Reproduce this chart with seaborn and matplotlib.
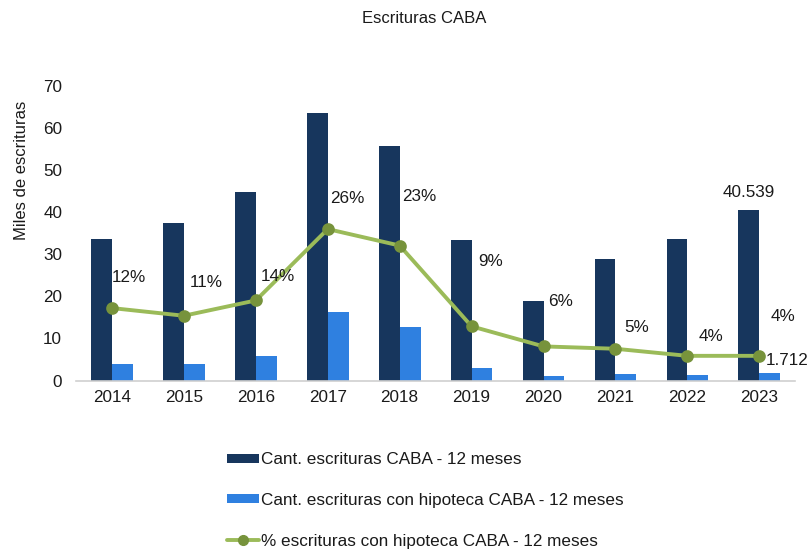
import numpy as np
import pandas as pd
import seaborn as sns
import matplotlib.pyplot as plt
from matplotlib.patches import Patch
from matplotlib.lines import Line2D

years = ['2014', '2015', '2016', '2017', '2018', '2019', '2020', '2021', '2022', '2023']
escrituras = [33.7, 37.4, 44.9, 63.5, 55.7, 33.4, 18.8, 28.9, 33.7, 40.539]
hipotecas = [4.0, 4.0, 5.9, 16.2, 12.7, 3.0, 1.1, 1.5, 1.3, 1.712]
pct_hipoteca = [0.123, 0.110, 0.136, 0.257, 0.229, 0.092, 0.058, 0.054, 0.042, 0.042]

label_total = 'Cant. escrituras CABA - 12 meses'
label_hip = 'Cant. escrituras con hipoteca CABA - 12 meses'
label_pct = '% escrituras con hipoteca CABA - 12 meses'

# label offsets (points) for the % labels, placed like the original Excel chart
pct_offsets = [(12, 22), (16, 24), (16, 17), (14, 22), (14, 35),
               (14, 47), (12, 32), (15, 15), (17, 14), (17, 28)]

dark = '#17365D'
blue = '#2F80E0'
green = '#9BBB59'
green_dark = '#77933C'
txt = '#1a1a1a'
fs = 12.3

sns.set_theme(style='white')
plt.rcParams['font.family'] = ['Liberation Sans', 'DejaVu Sans']

df = pd.DataFrame({
    'year': years * 2,
    'value': escrituras + hipotecas,
    'serie': [label_total] * len(years) + [label_hip] * len(years),
})

fig = plt.figure(figsize=(8.09, 5.5), dpi=100)
ax = fig.add_axes([0.094, 0.308, 0.889, 0.536])

sns.barplot(data=df, x='year', y='value', hue='serie', order=years,
            palette=[dark, blue], width=0.58, gap=0, ax=ax, legend=False,
            saturation=1, linewidth=0)
ax.set_ylim(0, 70)
ax.set_xlim(-0.5, 9.5)
ax.set_yticks(range(0, 71, 10))
ax.set_xlabel('')
ax.set_ylabel('')
ax.tick_params(axis='y', length=0, pad=10, labelsize=fs, colors=txt)
ax.tick_params(axis='x', length=0, pad=7, labelsize=fs, colors=txt)
for side in ['top', 'right', 'left']:
    ax.spines[side].set_visible(False)
ax.spines['bottom'].set_color('#d0d0d0')
ax.spines['bottom'].set_linewidth(1.2)

ax2 = ax.twinx()
dpct = pd.DataFrame({'year': years, 'pct': pct_hipoteca})
sns.pointplot(data=dpct, x='year', y='pct', order=years, color=green,
              markers='o', errorbar=None, ax=ax2, linewidth=2.8,
              markersize=7)
for coll in ax2.collections:
    coll.set_facecolor(green_dark)
    coll.set_edgecolor(green_dark)
for ln in ax2.lines:
    ln.set_markerfacecolor(green_dark)
    ln.set_markeredgecolor(green_dark)
ax2.set_ylim(0, 0.5)
ax2.set_xlim(-0.5, 9.5)
ax2.axis('off')

for i, (p, off) in enumerate(zip(pct_hipoteca, pct_offsets)):
    ax2.annotate(f'{p:.0%}', (i, p), xytext=off, textcoords='offset points',
                 ha='center', va='center', fontsize=fs, color=txt)

ax.annotate(f'{escrituras[-1]:.3f}', (9 - 0.145, escrituras[-1]),
            xytext=(0, 12.5), textcoords='offset points', ha='center', va='center',
            fontsize=fs, color=txt)
ax.annotate(f'{hipotecas[-1]:.3f}', (9 + 0.145, hipotecas[-1]),
            xytext=(-3, 9), textcoords='offset points', ha='left', va='center',
            fontsize=fs, color=txt)

fig.text(0.524, 0.967, 'Escrituras CABA', ha='center', va='center', fontsize=12,
         color=txt)
fig.text(0.026, 0.69, 'Miles de escrituras', rotation=90, ha='center', va='center',
         fontsize=12, color=txt)

handles = [
    Patch(facecolor=dark, edgecolor='none'),
    Patch(facecolor=blue, edgecolor='none'),
    Line2D([0], [0], color=green, lw=2.8, marker='o', markersize=7,
           markerfacecolor=green_dark, markeredgecolor=green_dark),
]
leg = fig.legend(handles, [label_total, label_hip, label_pct], loc='upper left',
                 bbox_to_anchor=(0.27, 0.193), frameon=False, fontsize=fs,
                 handlelength=1.9, handleheight=0.42, handletextpad=0.1,
                 labelspacing=1.5, borderpad=0)
for t in leg.get_texts():
    t.set_color(txt)

fig.savefig('out.png', dpi=100)
